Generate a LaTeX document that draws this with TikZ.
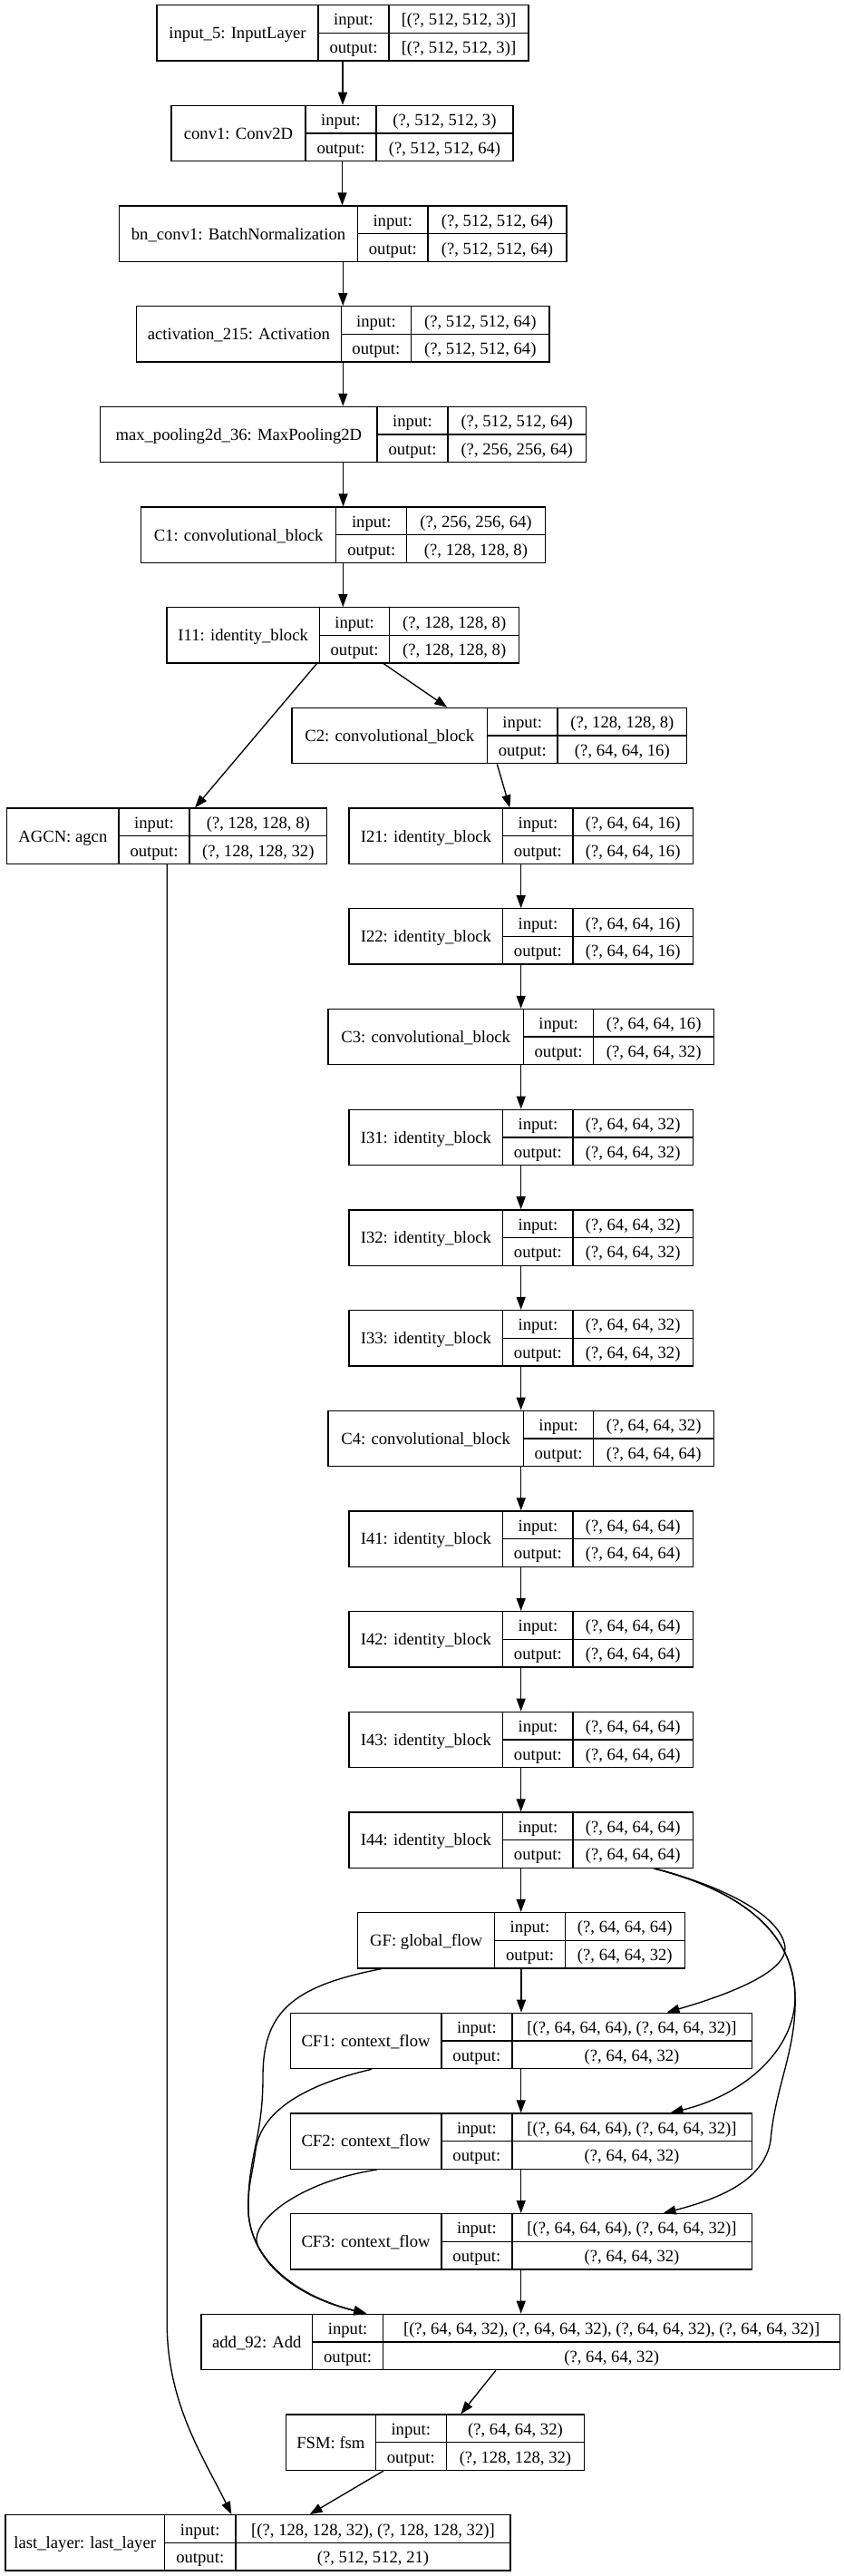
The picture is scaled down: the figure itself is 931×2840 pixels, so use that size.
\documentclass[tikz,border=0pt]{standalone}
\usepackage{fontspec}
\setmainfont{Liberation Serif}
\usetikzlibrary{arrows.meta,fit,calc}
\tikzset{
 box/.style={draw, inner sep=0pt, line width=1pt},
 cell/.style={line width=1pt},
 txt/.style={inner sep=0pt, anchor=base, font=\fontsize{14}{16}\selectfont},
 arr/.style={line width=1pt, -{Triangle[length=10.5pt,width=7.5pt]}},
}
% #1 name, #2 left, #3 div1, #4 div2, #5 right, #6 rank, #7 label, #8 input, #9 output
\newcommand\layer[9]{%
 \pgfmathsetmacro\lyT{5.7+110.68*#6}%
 \pgfmathsetmacro\lyB{\lyT+61.3}%
 \pgfmathsetmacro\lyM{\lyT+30.65}%
 \node[box, fit={(#2,\lyT) (#5,\lyB)}] (#1) {};
 \draw[cell] (#3,\lyT) -- (#3,\lyB) (#4,\lyT) -- (#4,\lyB) (#3,\lyM) -- (#5,\lyM);
 \node[txt] (#1-lab) at ({(#2+#3)/2},\lyM+6.3) {#7};
 \node[txt] (#1-ik) at ({(#3+#4)/2},\lyT+22.3) {input:};
 \node[txt] (#1-ok) at ({(#3+#4)/2},\lyM+22.3) {output:};
 \node[txt] (#1-iv) at ({(#4+#5)/2},\lyT+22.3) {#8};
 \node[txt] (#1-ov) at ({(#4+#5)/2},\lyM+22.3) {#9};
}
\begin{document}
\begin{tikzpicture}[x=0.75pt,y=-0.75pt]
\useasboundingbox (0,0) rectangle (931,2840);
\layer{in5}{173}{351}{429}{583}{0}{input\_5: InputLayer}{[(?, 512, 512, 3)]}{[(?, 512, 512, 3)]}
\layer{conv1}{189}{337}{415}{566}{1}{conv1: Conv2D}{(?, 512, 512, 3)}{(?, 512, 512, 64)}
\layer{bn}{131.5}{394.6}{472}{625}{2}{bn\_conv1: BatchNormalization}{(?, 512, 512, 64)}{(?, 512, 512, 64)}
\layer{act}{150.6}{376.2}{453.6}{606}{3}{activation\_215: Activation}{(?, 512, 512, 64)}{(?, 512, 512, 64)}
\layer{mp}{110.7}{416}{494}{646.4}{4}{max\_pooling2d\_36: MaxPooling2D}{(?, 512, 512, 64)}{(?, 256, 256, 64)}
\layer{C1}{155.4}{370.8}{448.8}{601.2}{5}{C1: convolutional\_block}{(?, 256, 256, 64)}{(?, 128, 128, 8)}
\layer{I11}{184}{352.4}{429.8}{572.6}{6}{I11: identity\_block}{(?, 128, 128, 8)}{(?, 128, 128, 8)}
\layer{C2}{322}{537.5}{615}{757.7}{7}{C2: convolutional\_block}{(?, 128, 128, 8)}{(?, 64, 64, 16)}
\layer{AGCN}{7.7}{131}{209}{360.7}{8}{AGCN: agcn}{(?, 128, 128, 8)}{(?, 128, 128, 32)}
\layer{I21}{385}{554.8}{632}{764.3}{8}{I21: identity\_block}{(?, 64, 64, 16)}{(?, 64, 64, 16)}
\layer{I22}{385}{554.8}{632}{764.3}{9}{I22: identity\_block}{(?, 64, 64, 16)}{(?, 64, 64, 16)}
\layer{C3}{362}{577.4}{654.8}{787.5}{10}{C3: convolutional\_block}{(?, 64, 64, 16)}{(?, 64, 64, 32)}
\layer{I31}{385}{554.8}{632}{764.3}{11}{I31: identity\_block}{(?, 64, 64, 32)}{(?, 64, 64, 32)}
\layer{I32}{385}{554.8}{632}{764.3}{12}{I32: identity\_block}{(?, 64, 64, 32)}{(?, 64, 64, 32)}
\layer{I33}{385}{554.8}{632}{764.3}{13}{I33: identity\_block}{(?, 64, 64, 32)}{(?, 64, 64, 32)}
\layer{C4}{362}{577.4}{654.8}{787.5}{14}{C4: convolutional\_block}{(?, 64, 64, 32)}{(?, 64, 64, 64)}
\layer{I41}{385}{554.8}{632}{764.3}{15}{I41: identity\_block}{(?, 64, 64, 64)}{(?, 64, 64, 64)}
\layer{I42}{385}{554.8}{632}{764.3}{16}{I42: identity\_block}{(?, 64, 64, 64)}{(?, 64, 64, 64)}
\layer{I43}{385}{554.8}{632}{764.3}{17}{I43: identity\_block}{(?, 64, 64, 64)}{(?, 64, 64, 64)}
\layer{I44}{385}{554.8}{632}{764.3}{18}{I44: identity\_block}{(?, 64, 64, 64)}{(?, 64, 64, 64)}
\layer{GF}{394.6}{545.8}{623.2}{755.4}{19}{GF: global\_flow}{(?, 64, 64, 64)}{(?, 64, 64, 32)}
\layer{CF1}{320.2}{486.9}{564.9}{829.2}{20}{CF1: context\_flow}{[(?, 64, 64, 64), (?, 64, 64, 32)]}{(?, 64, 64, 32)}
\layer{CF2}{320.2}{486.9}{564.9}{829.2}{21}{CF2: context\_flow}{[(?, 64, 64, 64), (?, 64, 64, 32)]}{(?, 64, 64, 32)}
\layer{CF3}{320.2}{486.9}{564.9}{829.2}{22}{CF3: context\_flow}{[(?, 64, 64, 64), (?, 64, 64, 32)]}{(?, 64, 64, 32)}
\layer{add}{222}{344.6}{422.6}{926.8}{23}{add\_92: Add}{[(?, 64, 64, 32), (?, 64, 64, 32), (?, 64, 64, 32), (?, 64, 64, 32)]}{(?, 64, 64, 32)}
\layer{FSM}{315.5}{414.3}{492.3}{644.6}{24}{FSM: fsm}{(?, 64, 64, 32)}{(?, 128, 128, 32)}
\layer{last}{6}{181.5}{260}{563}{25}{last\_layer: last\_layer}{[(?, 128, 128, 32), (?, 128, 128, 32)]}{(?, 512, 512, 21)}

% straight chain
\foreach \a/\b in {in5/conv1, conv1/bn, bn/act, act/mp, mp/C1, C1/I11,
  I21/I22, I22/C3, C3/I31, I31/I32, I32/I33, I33/C4, C4/I41, I41/I42, I42/I43, I43/I44,
  I44/GF, GF/CF1, CF1/CF2, CF2/CF3, CF3/add}
  \draw[arr] (\a.south) -- (\a.south |- \b.north);

\draw[arr] ($(I11.south west)+(166,0)$) -- ($(AGCN.north west)+(208,0)$);
\draw[arr] ($(I11.south west)+(240,0)$) -- ($(C2.north west)+(172,0)$);
\draw[arr] ($(C2.south west)+(227,0)$) -- ($(I21.north west)+(178,0)$);

% I44 -> context flows
\draw[arr] ($(I44.south west)+(337,0)$) .. controls (790,2077) and (862,2110) .. (866,2147)
  .. controls (868,2175) and (800,2200) .. ($(CF1.north west)+(416,0)$);
\draw[arr] ($(I44.south west)+(337,0)$) .. controls (800,2080) and (875,2120) .. (877,2200)
  .. controls (878,2260) and (820,2310) .. ($(CF2.north west)+(420,0)$);
\draw[arr] ($(I44.south west)+(337,0)$) .. controls (800,2080) and (875,2120) .. (877,2200)
  .. controls (879,2260) and (855,2300) .. (850,2360)
  .. controls (843,2405) and (790,2425) .. ($(CF3.north west)+(412,0)$);

% flows -> add
\draw[arr] ($(GF.south west)+(26.8,0)$) .. controls (320,2190) and (290,2220) .. (290,2290)
  .. controls (290,2360) and (272,2380) .. (274,2440)
  .. controls (278,2490) and (320,2530) .. ($(add.north west)+(183,0)$);
\draw[arr] ($(CF1.south west)+(90.5,0)$) .. controls (330,2300) and (288,2330) .. (282,2370)
  .. controls (278,2400) and (273,2410) .. (274,2440)
  .. controls (278,2490) and (320,2530) .. ($(add.north west)+(183,0)$);
\draw[arr] ($(CF2.south west)+(96.5,0)$) .. controls (330,2405) and (274,2450) .. (284.2,2475.5)
  .. controls (301.7,2508.75) and (341.25,2535) .. ($(add.north west)+(183,0)$);

\draw[arr] ($(add.south west)+(325.6,0)$) -- ($(FSM.north west)+(193.5,0)$);
\draw[arr] ($(FSM.south west)+(108.3,0)$) -- ($(last.north west)+(336.3,0)$);
\draw[arr] (AGCN.south) -- ($(AGCN.south)+(0,1607)$)
  .. controls (184,2650) and (225,2710) .. ($(last.north west)+(250,0)$);
\end{tikzpicture}
\end{document}
